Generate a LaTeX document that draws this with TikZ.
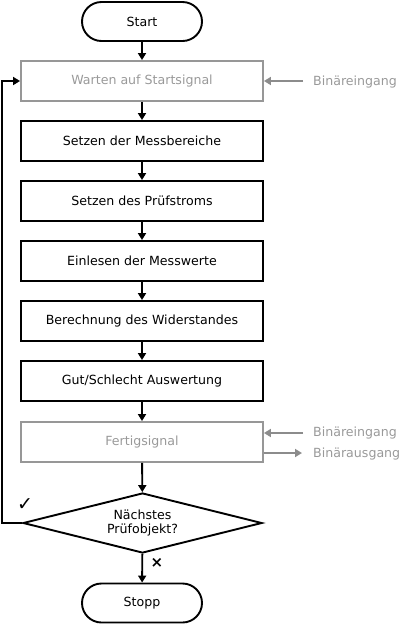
\documentclass[tikz,border=0pt]{standalone}
\usepackage{fontspec}
\setmainfont{DejaVu Sans}
\usetikzlibrary{shapes.geometric,arrows.meta}
\definecolor{gline}{HTML}{8C8C8C}
\definecolor{gtext}{HTML}{999999}
\begin{document}
\begin{tikzpicture}[x=1pt,y=-1pt,
  font=\fontsize{12.6}{15}\selectfont,
  proc/.style={draw,line width=1.9pt,minimum width=242pt,minimum height=40pt,inner sep=0pt},
  gproc/.style={proc,draw=gline!90,text=gtext},
  term/.style={draw,line width=1.9pt,rounded corners=19.5pt,minimum width=120pt,minimum height=39pt,inner sep=0pt},
  dec/.style={draw,line width=1.9pt,diamond,aspect=4,minimum width=239pt,minimum height=60pt,inner sep=0pt,align=center},
  flow/.style={line width=1.9pt,-{Triangle[length=7pt,width=8pt]}},
  gflow/.style={line width=1.9pt,draw=gline,-{Triangle[length=7pt,width=8pt]}},
  glabel/.style={text=gtext,anchor=west,inner sep=0pt}]
\useasboundingbox (0,0) rectangle (400,625);
\node[term] (start) at (142,21.5) {Start};
\node[gproc] (b1) at (142,81) {Warten auf Startsignal};
\node[proc] (b2) at (142,141) {Setzen der Messbereiche};
\node[proc] (b3) at (142,201) {Setzen des Prüfstroms};
\node[proc] (b4) at (142,261) {Einlesen der Messwerte};
\node[proc] (b5) at (142,321) {Berechnung des Widerstandes};
\node[proc] (b6) at (142,381) {Gut/Schlecht Auswertung};
\node[gproc] (b7) at (142,442) {Fertigsignal};
\node[dec] (d) at (142.5,523) {Nächstes\\[-1pt]Prüfobjekt?};
\node[term] (stopp) at (142,603) {Stopp};
\draw[flow] (start) -- (b1);
\draw[flow] (b1) -- (b2);
\draw[flow] (b2) -- (b3);
\draw[flow] (b3) -- (b4);
\draw[flow] (b4) -- (b5);
\draw[flow] (b5) -- (b6);
\draw[flow] (b6) -- (b7);
\draw[flow] (b7) -- (d);
\draw[flow] (d) -- (stopp);
\coordinate (lc) at (2,0);
\draw[flow] (d.west) -| (lc |- b1) -- (b1.west);
\node[font=\bfseries\fontsize{19}{19}\selectfont] (chk) at (25,505) {✓};
\node[font=\bfseries\fontsize{15}{15}\selectfont] (crs) at (157,562.5) {×};
\node[glabel] (in1) at (313,82) {Binäreingang};
\coordinate (in1s) at (303,81);
\draw[gflow] (in1s) -- (b1.east);
\node[glabel] (in2) at (313,433) {Binäreingang};
\coordinate (in2s) at (303,433);
\draw[gflow] (in2s) -- (b1.east |- in2s);
\node[glabel] (out2) at (313,454) {Binärausgang};
\coordinate (out2e) at (302,453);
\draw[gflow] (b7.east |- out2e) -- (out2e);
\end{tikzpicture}
\end{document}
